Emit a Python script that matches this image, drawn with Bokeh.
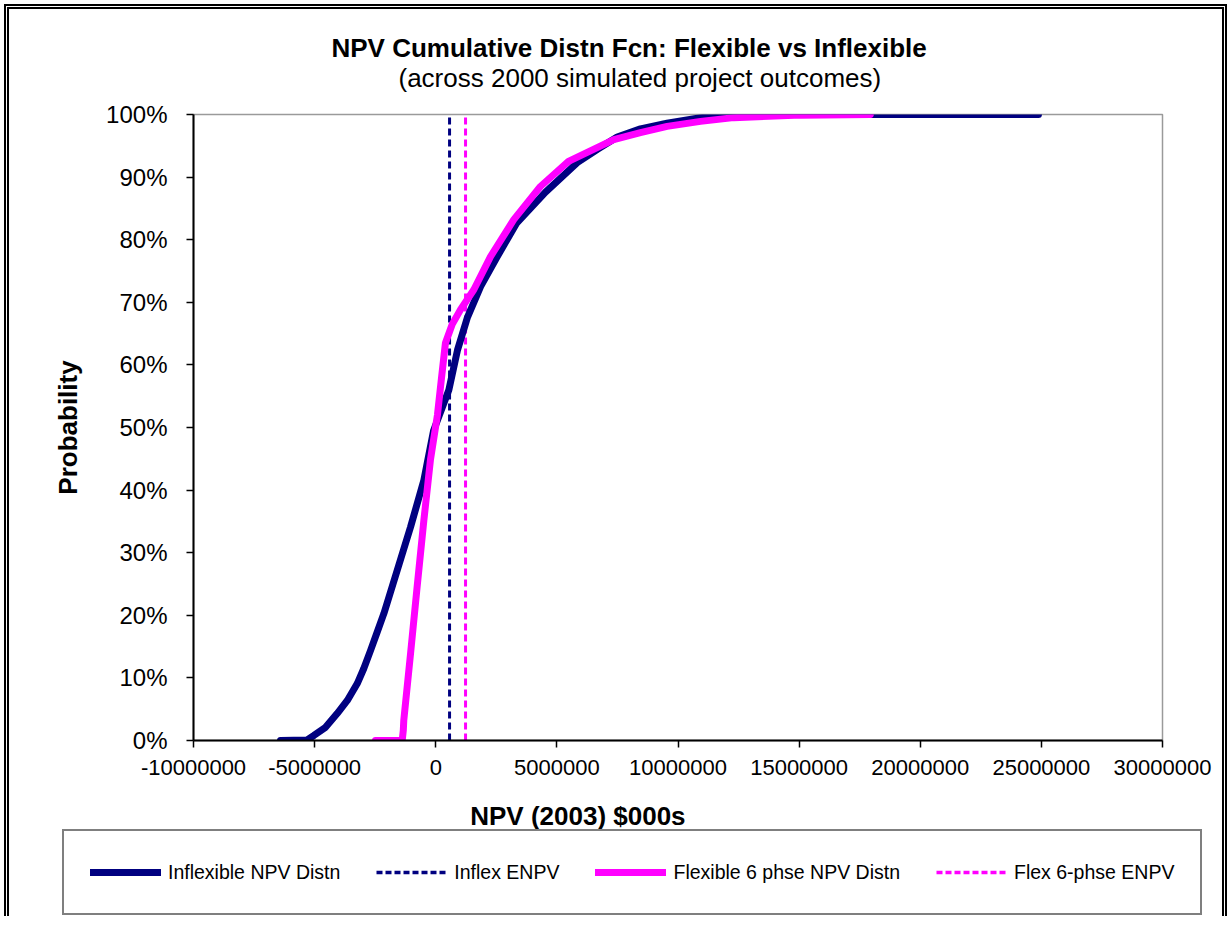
from bokeh.plotting import figure
from bokeh.layouts import column
from bokeh.models import (Range1d, FixedTicker, NumeralTickFormatter, Title, Legend,
                          LegendItem, Label)
from bokeh.embed import file_html
from bokeh.resources import INLINE

# ---- data (NPV in $000s, cumulative probability as fraction) ----
inflex_npv = [-6410000, -5310000, -5030000, -4550000, -4070000, -3650000, -3240000,
              -2970000, -2690000, -2420000, -2140000, -1590000, -1040000, -490000,
              -90000, 540000, 900000, 1300000, 1850000, 2540000, 3330000, 4530000,
              5840000, 6660000, 7490000, 8450000, 9550000, 10930000, 12300000,
              15060000, 24880000]
inflex_prob = [0.0, 0.001, 0.008, 0.021, 0.043, 0.064, 0.091, 0.115, 0.144, 0.173,
               0.203, 0.272, 0.341, 0.416, 0.495, 0.56, 0.624, 0.675, 0.725, 0.773,
               0.826, 0.876, 0.923, 0.944, 0.964, 0.977, 0.986, 0.995, 0.999, 1.0, 1.0]

flex_npv = [-2490000, -1385000, -1340000, -1320000, -1040000, -770000, -490000,
            -220000, 70000, 240000, 400000, 680000, 1020000, 1570000, 2260000,
            3220000, 4320000, 5480000, 7350000, 8450000, 9550000, 10930000,
            12300000, 15060000, 17940000]
flex_prob = [0.0, 0.0, 0.016, 0.032, 0.139, 0.245, 0.352, 0.448, 0.52, 0.58, 0.635,
             0.665, 0.688, 0.72, 0.773, 0.832, 0.885, 0.925, 0.96, 0.971, 0.981,
             0.989, 0.995, 0.999, 1.0]

inflex_enpv = 570000
flex_enpv = 1230000

x_ticks = [-10000000, -5000000, 0, 5000000, 10000000, 15000000, 20000000, 25000000, 30000000]
y_ticks = [0.0, 0.1, 0.2, 0.3, 0.4, 0.5, 0.6, 0.7, 0.8, 0.9, 1.0]

series_names = ["Inflexible NPV Distn", "Inflex ENPV", "Flexible 6 phse NPV Distn", "Flex 6-phse ENPV"]
title_text = "NPV Cumulative  Distn Fcn: Flexible vs  Inflexible"
subtitle_text = "(across 2000 simulated project outcomes)"
x_label = "NPV (2003)  $000s"
y_label = "Probability"

NAVY = "#000080"
MAGENTA = "#FF00FF"
FONT = "Liberation Sans"
NAN = float("nan")

W = 1231
H_TOP = 786
H_BOT = 140

# ---------------- main chart ----------------
p = figure(width=W, height=H_TOP,
           x_range=Range1d(x_ticks[0], x_ticks[-1]), y_range=Range1d(0, 1),
           output_backend="svg", toolbar_location=None, title=None,
           min_border_left=193, min_border_right=69, min_border_top=114,
           min_border_bottom=H_TOP - 740, background_fill_color="white",
           border_fill_color=None)
p.frame_align = False

p.xgrid.visible = False
p.ygrid.visible = False
p.outline_line_color = "#9a9a9a"
p.outline_line_width = 1.5

p.xaxis.ticker = FixedTicker(ticks=x_ticks)
p.xaxis.formatter = NumeralTickFormatter(format="0")
p.yaxis.ticker = FixedTicker(ticks=y_ticks)
p.yaxis.formatter = NumeralTickFormatter(format="0%")
for ax in (p.xaxis[0], p.yaxis[0]):
    ax.axis_line_color = "black"
    ax.axis_line_width = 2
    ax.major_tick_line_color = "black"
    ax.major_tick_line_width = 1.5
    ax.major_tick_in = 0
    ax.major_tick_out = 7
    ax.minor_tick_line_color = None
    ax.major_label_text_font = FONT
    ax.major_label_text_color = "black"
p.xaxis.major_label_text_font_size = "22px"
p.xaxis.major_label_standoff = 12
p.yaxis.major_label_text_font_size = "24px"
p.yaxis.major_label_standoff = 19
p.yaxis.axis_label = y_label
p.yaxis.axis_label_text_font = FONT
p.yaxis.axis_label_text_font_size = "26px"
p.yaxis.axis_label_text_font_style = "bold"
p.yaxis.axis_label_text_color = "black"
p.yaxis.axis_label_standoff = 20

p.line([inflex_enpv, inflex_enpv], [0, 1], line_color=NAVY, line_width=3, line_dash="7 4")
p.line([flex_enpv, flex_enpv], [0, 1], line_color=MAGENTA, line_width=3, line_dash="7 4")
p.line(inflex_npv, inflex_prob, line_color=NAVY, line_width=7,
       line_join="round", line_cap="round")
p.line(flex_npv, flex_prob, line_color=MAGENTA, line_width=7,
       line_join="round", line_cap="round")

sub = Title(text=subtitle_text, align="left", offset=205, text_font=FONT,
            text_font_size="26px", text_font_style="normal", text_color="black",
            standoff=44)
p.add_layout(sub, "above")
main = Title(text=title_text, align="left", offset=138, text_font=FONT,
             text_font_size="26px", text_font_style="bold", text_color="black",
             standoff=-48)
p.add_layout(main, "above")

# ---------------- x-axis title + legend strip ----------------
q = figure(width=W, height=H_BOT, x_range=Range1d(0, W), y_range=Range1d(H_TOP + H_BOT, H_TOP),
           output_backend="svg", toolbar_location=None, title=None,
           x_axis_type=None, y_axis_type=None, min_border=0,
           background_fill_color=None, border_fill_color=None)
q.frame_align = False
q.xgrid.visible = False
q.ygrid.visible = False
q.outline_line_color = None

q.add_layout(Label(x=581, y=815, text=x_label, text_align="center",
                   text_baseline="middle", text_font=FONT, text_font_size="26px",
                   text_font_style="bold", text_color="black"))

# legend-only renderers (no visible data)
g1 = q.line([NAN], [NAN], line_color=NAVY, line_width=7, line_cap="round")
g2 = q.line([NAN], [NAN], line_color=NAVY, line_width=3.5, line_dash="6 3")
g3 = q.line([NAN], [NAN], line_color=MAGENTA, line_width=7, line_cap="round")
g4 = q.line([NAN], [NAN], line_color=MAGENTA, line_width=3.5, line_dash="6 3")

legend = Legend(items=[LegendItem(label=series_names[0], renderers=[g1]),
                       LegendItem(label=series_names[1], renderers=[g2]),
                       LegendItem(label=series_names[2], renderers=[g3]),
                       LegendItem(label=series_names[3], renderers=[g4])],
                orientation="horizontal", location=(62, 11),
                label_text_font=FONT, label_text_font_size="19.5px",
                label_text_color="black", glyph_width=71, glyph_height=30,
                label_height=30, label_standoff=7, spacing=36, padding=26,
                margin=0, border_line_color="black", border_line_width=2,
                background_fill_color="white", background_fill_alpha=1.0)
q.add_layout(legend, "center")

layout = column(p, q, spacing=0)
layout.styles = {"outline": "5px double black", "outline-offset": "-9px",
                 "clip-path": "inset(0px 0px 10px 0px)", "background-color": "white"}

open("out.html", "w").write(file_html(layout, INLINE))
